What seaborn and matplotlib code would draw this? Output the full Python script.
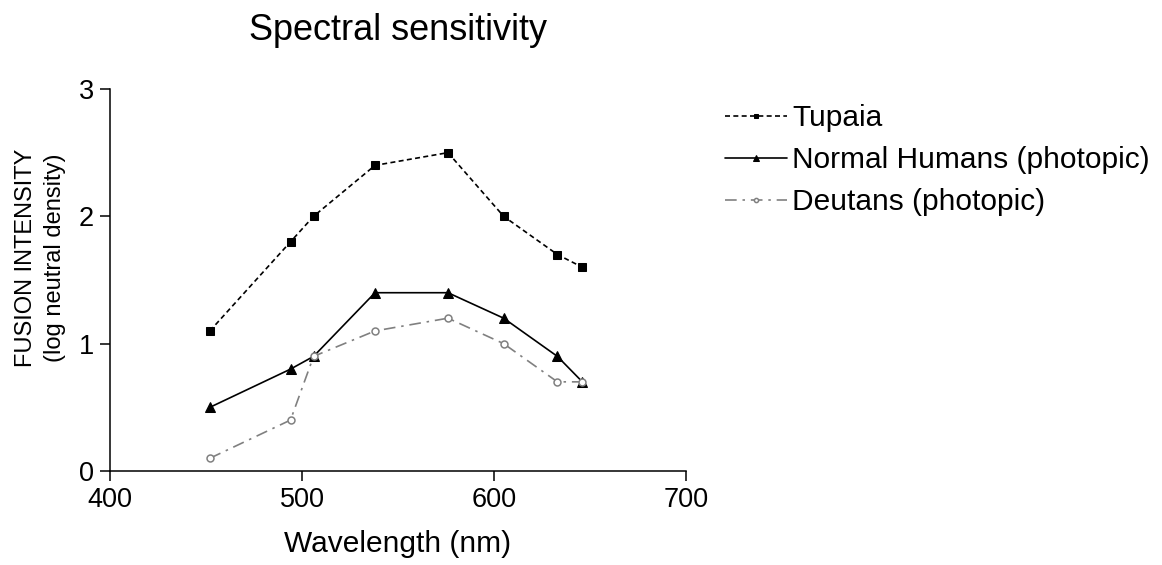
import matplotlib
matplotlib.use("Agg")
import matplotlib.pyplot as plt
import seaborn as sns
import pandas as pd

# Wavelengths tested (nm) and the flicker-fusion thresholds for each group
wavelength = [452, 494, 506, 538, 576, 605, 633, 646]
tupaia = [1.1, 1.8, 2.0, 2.4, 2.5, 2.0, 1.7, 1.6]
normal_humans = [0.5, 0.8, 0.9, 1.4, 1.4, 1.2, 0.9, 0.7]
deutans = [0.1, 0.4, 0.9, 1.1, 1.2, 1.0, 0.7, 0.7]

series_names = ["Tupaia", "Normal Humans (photopic)", "Deutans (photopic)"]
x_ticks = [400, 500, 600, 700]
y_ticks = [0, 1, 2, 3]

sns.set_style("ticks")
plt.rcParams["font.family"] = ["Liberation Sans", "DejaVu Sans"]
plt.rcParams.update({
    "text.color": "black",
    "axes.labelcolor": "black",
    "xtick.color": "black",
    "ytick.color": "black",
    "axes.edgecolor": "black",
})

fig = plt.figure(figsize=(11.62, 5.65), dpi=100)
ax = fig.add_axes([0.0947, 0.1664, 0.4957, 0.6761])

styles = [
    dict(color="black", marker="s", linestyle=(0, (3, 2)), markersize=6,
         markerfacecolor="black", markeredgecolor="black"),
    dict(color="black", marker="^", linestyle="-", markersize=7,
         markerfacecolor="black", markeredgecolor="black"),
    dict(color="#808080", marker="o", linestyle=(0, (7, 3.5, 1.5, 3.5)), markersize=5,
         markerfacecolor="white", markeredgecolor="#808080", markeredgewidth=1.1),
]

for name, values, st in zip(series_names, [tupaia, normal_humans, deutans], styles):
    df = pd.DataFrame({"Wavelength": wavelength, "Intensity": values})
    sns.lineplot(data=df, x="Wavelength", y="Intensity", ax=ax, label=name,
                 linewidth=1.2, clip_on=False, **st)

ax.set_xlim(400, 700)
ax.set_ylim(0, 3)
ax.set_xticks(x_ticks)
ax.set_yticks(y_ticks)
ax.tick_params(axis="both", labelsize=19.5, length=7.2, width=1.1, pad=4.5)
for side in ("left", "bottom"):
    ax.spines[side].set_linewidth(1.1)
sns.despine(ax=ax)

ax.set_xlabel("Wavelength (nm)", fontsize=21.5, labelpad=12)
ax.set_ylabel("FUSION INTENSITY\n(log neutral density)", fontsize=17, labelpad=9,
              linespacing=1.4)
ax.yaxis.label.set_y(0.558)
ax.set_title("Spectral sensitivity", fontsize=26, pad=35)

ax.legend(loc="upper left", bbox_to_anchor=(1.047, 0.992), frameon=False,
          fontsize=21.5, handlelength=2.07, handletextpad=0.17,
          labelspacing=0.47, markerscale=0.6, borderaxespad=0)

fig.savefig("out.png", dpi=100)
